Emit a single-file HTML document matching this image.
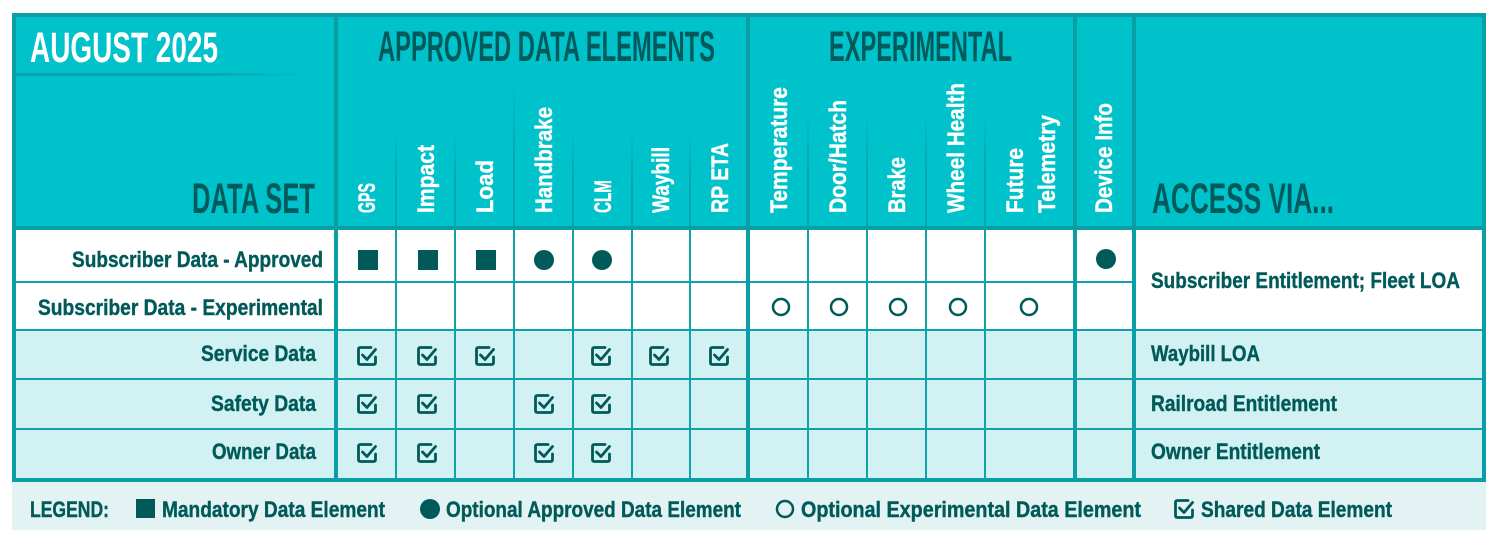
<!DOCTYPE html>
<html><head><meta charset="utf-8"><style>
html,body{margin:0;padding:0;background:#fff;}
svg{display:block;}
text{font-family:"Liberation Sans",sans-serif;font-weight:bold;}
</style></head><body>
<svg width="1500" height="543" viewBox="0 0 1500 543" xmlns="http://www.w3.org/2000/svg">
<defs>
<linearGradient id="fade" x1="0" y1="0" x2="0" y2="1">
<stop offset="0" stop-color="#07a6ae" stop-opacity="0"/>
<stop offset="0.5" stop-color="#07a6ae" stop-opacity="1"/>
</linearGradient>
<linearGradient id="hfade" x1="0" y1="0" x2="1" y2="0">
<stop offset="0.6" stop-color="#07a6ae" stop-opacity="1"/>
<stop offset="1" stop-color="#07a6ae" stop-opacity="0"/>
</linearGradient>
<g id="ck" fill="none" stroke="#005a5a" stroke-width="2.8" stroke-linecap="round" stroke-linejoin="round">
<path d="M4,-8.5 H-6.5 Q-8.5,-8.5 -8.5,-6.5 V6.5 Q-8.5,8.5 -6.5,8.5 H6.5 Q8.5,8.5 8.5,6.5 V1"/>
<path d="M-4.5,-1 L0,3.5 L8.5,-6.5"/>
</g>
</defs>
<rect x="12" y="13" width="1474" height="216" fill="#00c2cb"/>
<rect x="12" y="228" width="1474" height="102" fill="#fff"/>
<rect x="12" y="330" width="1474" height="151" fill="#d1f1f3"/>
<rect x="12" y="481" width="1474" height="49" fill="#e3f2f2"/>
<rect x="16" y="73" width="300" height="3" fill="url(#hfade)"/>
<g fill="url(#fade)">
<rect x="395" y="130" width="2" height="98"/>
<rect x="454" y="130" width="2" height="98"/>
<rect x="513" y="80" width="2" height="148"/>
<rect x="572" y="130" width="2" height="98"/>
<rect x="631" y="130" width="2" height="98"/>
<rect x="689" y="130" width="2" height="98"/>
<rect x="807" y="110" width="2" height="118"/>
<rect x="866" y="110" width="2" height="118"/>
<rect x="925" y="110" width="2" height="118"/>
<rect x="984" y="110" width="2" height="118"/>
</g>
<g stroke="#0fa3a9" stroke-width="2">
<line x1="12" y1="282" x2="1133" y2="282"/>
<line x1="12" y1="330" x2="1486" y2="330"/>
<line x1="12" y1="379" x2="1486" y2="379"/>
<line x1="12" y1="429" x2="1486" y2="429"/>
<line x1="396" y1="228" x2="396" y2="481"/>
<line x1="455" y1="228" x2="455" y2="481"/>
<line x1="514" y1="228" x2="514" y2="481"/>
<line x1="573" y1="228" x2="573" y2="481"/>
<line x1="632" y1="228" x2="632" y2="481"/>
<line x1="690" y1="228" x2="690" y2="481"/>
<line x1="808" y1="228" x2="808" y2="481"/>
<line x1="867" y1="228" x2="867" y2="481"/>
<line x1="926" y1="228" x2="926" y2="481"/>
<line x1="985" y1="228" x2="985" y2="481"/>
</g>
<g stroke="#0a9ea5" stroke-width="4" fill="none">
<line x1="12" y1="228" x2="1486" y2="228"/>
<line x1="336" y1="13" x2="336" y2="481"/>
<line x1="748" y1="13" x2="748" y2="481"/>
<line x1="1075" y1="13" x2="1075" y2="481"/>
<line x1="1134" y1="13" x2="1134" y2="481"/>
<rect x="14" y="15" width="1470" height="465"/>
</g>
<g font-size="43">
<text x="30" y="62" fill="#fff" textLength="188" lengthAdjust="spacingAndGlyphs">AUGUST 2025</text>
<text x="378" y="61" fill="#005a5c" textLength="337" lengthAdjust="spacingAndGlyphs">APPROVED DATA ELEMENTS</text>
<text x="829" y="61" fill="#005a5c" textLength="183" lengthAdjust="spacingAndGlyphs">EXPERIMENTAL</text>
<text x="192" y="213" fill="#005a5c" textLength="123" lengthAdjust="spacingAndGlyphs">DATA SET</text>
<text x="1152" y="213" fill="#005a5c" textLength="182" lengthAdjust="spacingAndGlyphs">ACCESS VIA...</text>
</g>
<g font-size="24" fill="#fff" stroke="#fff" stroke-width="0.4">
<text transform="translate(375,213) rotate(-90)" textLength="30" lengthAdjust="spacingAndGlyphs">GPS</text>
<text transform="translate(434,213) rotate(-90)" textLength="68" lengthAdjust="spacingAndGlyphs">Impact</text>
<text transform="translate(493,213) rotate(-90)" textLength="53" lengthAdjust="spacingAndGlyphs">Load</text>
<text transform="translate(552,213) rotate(-90)" textLength="106" lengthAdjust="spacingAndGlyphs">Handbrake</text>
<text transform="translate(611,213) rotate(-90)" textLength="33" lengthAdjust="spacingAndGlyphs">CLM</text>
<text transform="translate(669,213) rotate(-90)" textLength="66" lengthAdjust="spacingAndGlyphs">Waybill</text>
<text transform="translate(728,213) rotate(-90)" textLength="70" lengthAdjust="spacingAndGlyphs">RP ETA</text>
<text transform="translate(787,213) rotate(-90)" textLength="126" lengthAdjust="spacingAndGlyphs">Temperature</text>
<text transform="translate(846,213) rotate(-90)" textLength="113" lengthAdjust="spacingAndGlyphs">Door/Hatch</text>
<text transform="translate(905,213) rotate(-90)" textLength="56" lengthAdjust="spacingAndGlyphs">Brake</text>
<text transform="translate(964,213) rotate(-90)" textLength="130" lengthAdjust="spacingAndGlyphs">Wheel Health</text>
<text transform="translate(1023,213) rotate(-90)" textLength="65" lengthAdjust="spacingAndGlyphs">Future</text>
<text transform="translate(1055,213) rotate(-90)" textLength="98" lengthAdjust="spacingAndGlyphs">Telemetry</text>
<text transform="translate(1112,213) rotate(-90)" textLength="110" lengthAdjust="spacingAndGlyphs">Device Info</text>
</g>
<g font-size="22" fill="#005a5a" stroke="#005a5a" stroke-width="0.4">
<text x="72" y="267" textLength="251" lengthAdjust="spacingAndGlyphs">Subscriber Data - Approved</text>
<text x="38" y="315" textLength="285" lengthAdjust="spacingAndGlyphs">Subscriber Data - Experimental</text>
<text x="201" y="361" textLength="115" lengthAdjust="spacingAndGlyphs">Service Data</text>
<text x="211" y="411" textLength="105" lengthAdjust="spacingAndGlyphs">Safety Data</text>
<text x="212" y="459" textLength="104" lengthAdjust="spacingAndGlyphs">Owner Data</text>
<text x="1151" y="288" textLength="309" lengthAdjust="spacingAndGlyphs">Subscriber Entitlement; Fleet LOA</text>
<text x="1151" y="361" textLength="109" lengthAdjust="spacingAndGlyphs">Waybill LOA</text>
<text x="1151" y="411" textLength="186" lengthAdjust="spacingAndGlyphs">Railroad Entitlement</text>
<text x="1151" y="459" textLength="169" lengthAdjust="spacingAndGlyphs">Owner Entitlement</text>
</g>
<g font-size="22" fill="#005a5a">
<g stroke="#005a5a" stroke-width="0.4">
<text x="30" y="517" textLength="79" lengthAdjust="spacingAndGlyphs">LEGEND:</text>
<text x="162" y="517" textLength="223" lengthAdjust="spacingAndGlyphs">Mandatory Data Element</text>
<text x="446" y="517" textLength="295" lengthAdjust="spacingAndGlyphs">Optional Approved Data Element</text>
<text x="801" y="517" textLength="340" lengthAdjust="spacingAndGlyphs">Optional Experimental Data Element</text>
<text x="1201" y="517" textLength="191" lengthAdjust="spacingAndGlyphs">Shared Data Element</text>
</g>
<rect x="136" y="499" width="19" height="19"/>
<circle cx="430" cy="509" r="10"/>
<circle cx="785" cy="509" r="8" fill="none" stroke="#005a5a" stroke-width="2.5"/>
<use href="#ck" transform="translate(1184,509)"/>
</g>
<g fill="#005a5a">
<rect x="358" y="250" width="20" height="20"/>
<rect x="418" y="250" width="20" height="20"/>
<rect x="476" y="250" width="20" height="20"/>
<circle cx="544" cy="260" r="10"/>
<circle cx="602" cy="260" r="10"/>
<circle cx="1106" cy="259" r="10"/>
</g>
<g fill="none" stroke="#005a5a" stroke-width="2.5">
<circle cx="781" cy="307" r="8"/>
<circle cx="839" cy="307" r="8"/>
<circle cx="898" cy="307" r="8"/>
<circle cx="958" cy="307" r="8"/>
<circle cx="1029" cy="307" r="8"/>
</g>
<use href="#ck" transform="translate(367,356)"/>
<use href="#ck" transform="translate(427,356)"/>
<use href="#ck" transform="translate(485,356)"/>
<use href="#ck" transform="translate(601,356)"/>
<use href="#ck" transform="translate(659,356)"/>
<use href="#ck" transform="translate(719,356)"/>
<use href="#ck" transform="translate(367,404)"/>
<use href="#ck" transform="translate(427,404)"/>
<use href="#ck" transform="translate(544,404)"/>
<use href="#ck" transform="translate(601,404)"/>
<use href="#ck" transform="translate(367,453)"/>
<use href="#ck" transform="translate(427,453)"/>
<use href="#ck" transform="translate(544,453)"/>
<use href="#ck" transform="translate(601,453)"/>
</svg>
</body></html>
